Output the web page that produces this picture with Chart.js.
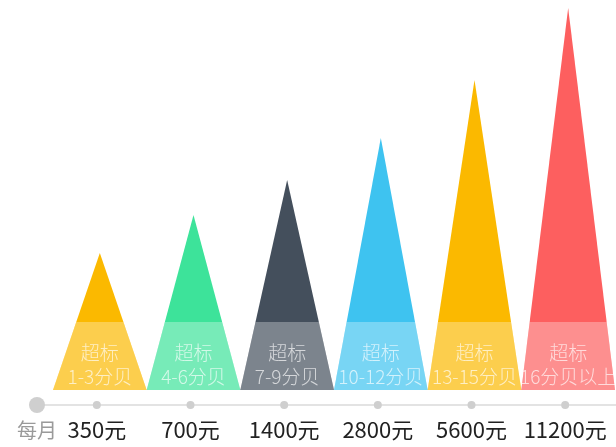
<!DOCTYPE html>
<html>
<head>
<meta charset="utf-8">
<script src="https://cdn.jsdelivr.net/npm/chart.js@4.4.0/dist/chart.umd.min.js"></script>
<style>
  html, body { margin: 0; padding: 0; background: #fff; }
  #wrap { width: 616px; height: 447px; position: relative; }
</style>
</head>
<body>
<div id="wrap"><canvas id="noiseChart"></canvas></div>
<script>
// 每月费用（x轴标签）
var prices = ['350元', '700元', '1400元', '2800元', '5600元', '11200元'];
// 三角形高度（按图估计）
var heights = [137, 175, 210, 252, 310, 382];
// 三角形内文字
var bandTitle = ['超标', '超标', '超标', '超标', '超标', '超标'];
var bandLevel = ['1-3分贝', '4-6分贝', '7-9分贝', '10-12分贝', '13-15分贝', '16分贝以上'];
// 颜色
var colors = ['#fbb900', '#3de39a', '#444f5c', '#3ec3f0', '#fbb900', '#fd5f5f'];

var CJK = '"Noto Sans CJK SC", "Noto Sans", sans-serif';

// 把柱子画成三角形，底部加一条浅色带和文字
var trianglePlugin = {
  id: 'triangles',
  beforeDatasetDraw: function (chart, args) {
    var ctx = chart.ctx;
    var meta = args.meta;
    meta.data.forEach(function (bar, i) {
      var p = bar.getProps(['x', 'y', 'base', 'width'], true);
      var half = p.width / 2;
      ctx.save();
      ctx.beginPath();
      ctx.moveTo(p.x - half, p.base);
      ctx.lineTo(p.x, p.y);
      ctx.lineTo(p.x + half, p.base);
      ctx.closePath();
      ctx.fillStyle = colors[i];
      ctx.fill();
      // 浅色带
      ctx.clip();
      ctx.fillStyle = 'rgba(255,255,255,0.3)';
      ctx.fillRect(p.x - half, p.base - 68, p.width, 68);
      ctx.restore();

      ctx.save();
      ctx.fillStyle = 'rgba(255,255,255,0.68)';
      ctx.textAlign = 'center';
      ctx.textBaseline = 'middle';
      ctx.font = '300 19px ' + CJK;
      ctx.fillText(bandTitle[i], p.x, p.base - 37);
      ctx.fillText(bandLevel[i], p.x, p.base - 13);
      ctx.restore();
    });
    return false;
  },
  afterDraw: function (chart) {
    var ctx = chart.ctx;
    var xScale = chart.scales.x;
    var lineY = chart.chartArea.bottom + 15;
    ctx.save();
    // 横线
    ctx.strokeStyle = '#e3e3e3';
    ctx.lineWidth = 2;
    ctx.beginPath();
    ctx.moveTo(37, lineY);
    ctx.lineTo(chart.width, lineY);
    ctx.stroke();
    // 起点大圆
    ctx.fillStyle = '#cfcfcf';
    ctx.beginPath();
    ctx.arc(37, lineY, 8, 0, Math.PI * 2);
    ctx.fill();
    // 每个类别的小圆点
    prices.forEach(function (p, i) {
      ctx.beginPath();
      ctx.arc(xScale.getPixelForValue(i) - 3, lineY, 4, 0, Math.PI * 2);
      ctx.fill();
    });
    ctx.textAlign = 'center';
    ctx.textBaseline = 'middle';
    // 每月
    ctx.fillStyle = '#9a9a9a';
    ctx.font = '20px ' + CJK;
    ctx.fillText('每月', 37, lineY + 25);
    // x轴标签
    ctx.fillStyle = '#222';
    ctx.font = '22px ' + CJK;
    prices.forEach(function (p, i) {
      ctx.fillText(p, xScale.getPixelForValue(i) - 3, lineY + 25);
    });
    ctx.restore();
  }
};

var ctx = document.getElementById('noiseChart').getContext('2d');
var chart = new Chart(ctx, {
  type: 'bar',
  data: {
    labels: prices,
    datasets: [{
      data: heights,
      backgroundColor: colors,
      barPercentage: 1,
      categoryPercentage: 1
    }]
  },
  options: {
    responsive: true,
    maintainAspectRatio: false,
    animation: false,
    layout: { padding: { left: 53, right: 1, top: 8, bottom: 57 } },
    plugins: {
      legend: { display: false },
      tooltip: { enabled: false }
    },
    scales: {
      x: { display: false },
      y: {
        display: false,
        min: 0,
        max: 382
      }
    }
  },
  plugins: [trianglePlugin]
});
</script>
</body>
</html>
